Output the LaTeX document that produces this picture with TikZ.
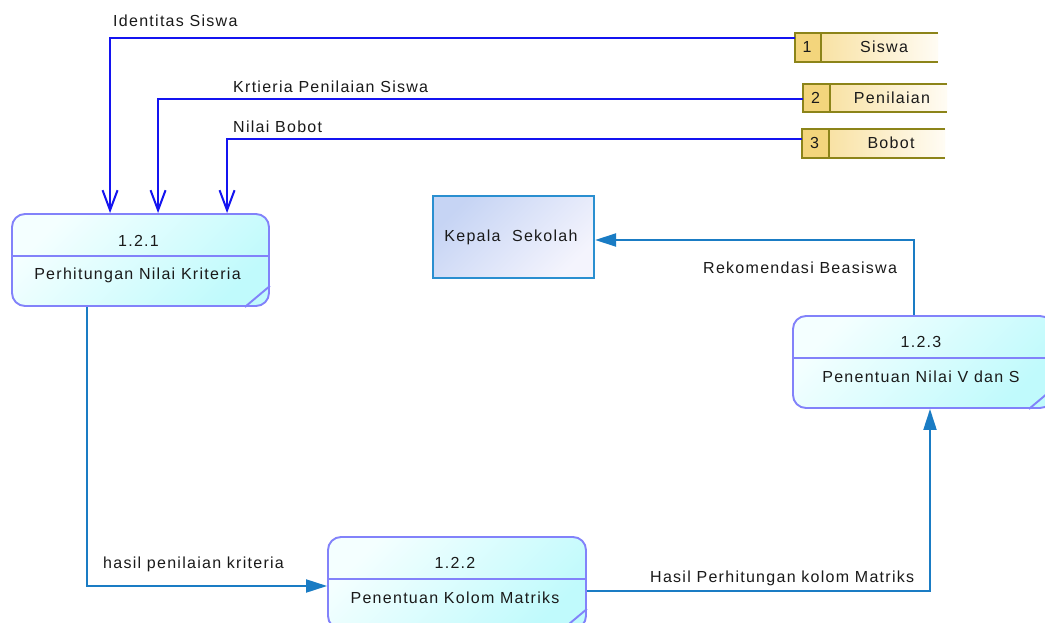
\documentclass[tikz,border=0pt]{standalone}
\usepackage{fontspec}
\setmainfont{Liberation Sans}[LetterSpace=8]
\usetikzlibrary{arrows.meta,calc}

\definecolor{procBorder}{HTML}{8282FA}
\definecolor{procA}{HTML}{F4FFFF}
\definecolor{procB}{HTML}{C0FAFC}
\definecolor{entBorder}{HTML}{2A8FD0}
\definecolor{entA}{HTML}{C6D4F4}
\definecolor{entB}{HTML}{F4F4FD}
\definecolor{flowBlue}{HTML}{1414F0}
\definecolor{flowTeal}{HTML}{1A7CC4}
\definecolor{storeLine}{HTML}{8C8419}
\definecolor{storeNum}{HTML}{F3D57C}
\definecolor{storeA}{HTML}{F7DC92}
\definecolor{storeB}{HTML}{FFFCF4}
\definecolor{ink}{HTML}{1A1A1A}

\tikzset{
  txt/.style={text=ink, font=\fontsize{16}{19}\selectfont, inner sep=0pt},
  proc/.style={draw=procBorder, line width=1.9pt, rounded corners=13pt,
    top color=procA, bottom color=procB, shading angle=45,
    minimum height=92pt, inner sep=0pt},
  procline/.style={draw=procBorder, line width=1.9pt},
  ent/.style={draw=entBorder, line width=2.2pt, top color=entA, bottom color=entB,
    shading angle=45, inner sep=0pt},
  store/.style={left color=storeA, right color=storeB, inner sep=0pt},
  storeline/.style={draw=storeLine, line width=2.4pt},
  flowin/.style={draw=flowBlue, line width=2pt,
    -{Straight Barb[length=20pt,width=15pt,line width=2pt]}},
  flowout/.style={draw=flowTeal, line width=2pt,
    -{Triangle[length=21pt,width=13pt]}},
}

\begin{document}
\begin{tikzpicture}[x=1pt,y=-1pt]
\useasboundingbox (0,0) rectangle (1045,623);
\clip (0,0) rectangle (1045,623);
\fill[white] (0,0) rectangle (1045,623);

% ---- processes ----
\node[proc, minimum width=257pt] (p1) at (140.5,260) {};
\node[proc, minimum width=258pt] (p2) at (457,583) {};
\node[proc, minimum width=260pt] (p3) at (923,362) {};
\foreach \p in {p1,p2,p3}{
  \draw[procline] ($(\p.north west)+(0,43)$) -- ($(\p.north east)+(0,43)$);
  \draw[procline] ($(\p.south east)+(-25,0)$) -- ($(\p.south east)+(0,-21)$);
}
\node[txt] (p1id) at ($(p1.north)+(-2,28)$) {1.2.1};
\node[txt] (p1lb) at ($(p1.north)+(-3,62)$) {Perhitungan Nilai Kriteria};
\node[txt] (p2id) at ($(p2.north)+(-2,27)$) {1.2.2};
\node[txt] (p2lb) at ($(p2.north)+(-2,62)$) {Penentuan Kolom Matriks};
\node[txt] (p3id) at ($(p3.north)+(-2,27)$) {1.2.3};
\node[txt] (p3lb) at ($(p3.north)+(-2,62)$) {Penentuan Nilai V dan S};

% ---- external entity ----
\node[ent, minimum width=161pt, minimum height=82pt] (k) at (513.5,237) {};
\node[txt] (klb) at (511,237) {Kepala\ \ Sekolah};

% ---- data stores ----
\node[store, minimum width=143pt, minimum height=29pt] (d1) at (866.5,47.5) {};
\node[store, minimum width=144pt, minimum height=28pt] (d2) at (875,98) {};
\node[store, minimum width=143pt, minimum height=29pt] (d3) at (873.5,143.5) {};
\foreach \d/\w in {d1/26,d2/27,d3/27}{
  \fill[storeNum] (\d.north west) rectangle ($(\d.south west)+(\w,0)$);
  \draw[storeline] (\d.north east) -- (\d.north west) -- (\d.south west) -- (\d.south east);
  \draw[storeline] ($(\d.north west)+(\w,0)$) -- ($(\d.south west)+(\w,0)$);
}
\node[txt] (d1n) at (807,47) {1};
\node[txt] (d1t) at (884,47) {Siswa};
\node[txt] (d2n) at (815.5,98) {2};
\node[txt] (d2t) at (892,98) {Penilaian};
\node[txt] (d3n) at (814.5,143) {3};
\node[txt] (d3t) at (891,143) {Bobot};

% ---- data flows from the stores ----
\draw[flowin] ($(d1.west)+(0,-9)$) -| ($(p1.north west)+(99,0)$);
\draw[flowin] ($(d2.west)+(0,1)$) -| ($(p1.north west)+(147,0)$);
\draw[flowin] ($(d3.west)+(0,-4)$) -| ($(p1.north west)+(216,0)$);
\node[txt, anchor=west] (f1) at (113,21) {Identitas Siswa};
\node[txt, anchor=west] (f2) at (233,87) {Krtieria Penilaian Siswa};
\node[txt, anchor=west] (f3) at (233,127) {Nilai Bobot};

% ---- data flows between processes ----
\draw[flowout] ($(p1.south west)+(76,0)$) |- ($(p2.west)+(0,3)$);
\draw[flowout] ($(p2.east)+(0,8)$) -| ($(p3.south)+(7,0)$);
\draw[flowout] ($(p3.north)+(-9,0)$) |- ($(k.east)+(0,3)$);
\node[txt, anchor=west] (f4) at (103,564) {hasil penilaian kriteria};
\node[txt, anchor=west] (f5) at (650,578) {Hasil Perhitungan kolom Matriks};
\node[txt, anchor=west] (f6) at (703,268) {Rekomendasi Beasiswa};
\end{tikzpicture}
\end{document}
